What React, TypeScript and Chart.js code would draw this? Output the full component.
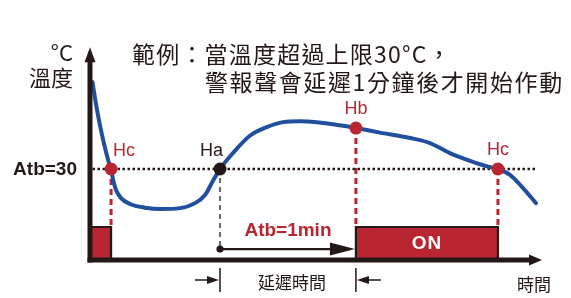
import React, { useEffect, useRef } from "react";
import { Chart, registerables } from "chart.js";

Chart.register(...registerables);

// ---- data (time in seconds, temperature in °C) ----
const curveTime = [1.1, 2.2, 3.5, 5.3, 7.1, 8.4, 9.3, 10.2, 11.5, 13.7, 17.7, 24.3, 30.9, 39.7, 46.4, 50.8, 54.3, 57.4, 63.1, 70.6, 78.1, 85.2, 92.7, 100.2, 110.4, 117.4, 128.0, 141.3, 150.1, 158.9, 167.8, 176.6, 180.1, 185.4, 190.3, 196.9];
const curveTemp = [49.1, 45.6, 41.9, 37.5, 33.7, 31.3, 30.0, 27.6, 25.4, 23.6, 22.3, 21.5, 21.2, 21.4, 22.5, 24.3, 27.4, 30.0, 33.5, 37.3, 39.2, 40.3, 40.5, 40.3, 39.6, 39.0, 38.0, 36.8, 35.7, 33.5, 31.8, 30.4, 30.0, 28.7, 26.3, 22.5];

const thresholdTemp = 30;
const thresholdStart = 1.1;
const thresholdEnd = 197.3;

const markerNames = ["Hc", "Ha", "Hb", "Hc"];
const markerTime = [9.3, 57.4, 117.4, 180.1];
const markerTemp = [30, 30, 39, 30];

// alarm output periods (start, end) in seconds, output level 0/1
const alarmStart = [0, 117.4];
const alarmEnd = [9.3, 180.1];
const delayArrowLevel = 0.33;

const titleLines = ["範例：當溫度超過上限30°C，", "警報聲會延遲1分鐘後才開始作動"];
const yUnitLabel = "°C";
const yTitle = "溫度";
const xTitle = "時間";
const delayLabel = "延遲時間";
const atbDelayLabel = "Atb=1min";
const atbTempLabel = "Atb=30";
const onLabel = "ON";

const RED = "#b92530";
const BLUE = "#1f4f9d";
const DARK = "#231815";
const CJK = '"Noto Sans CJK TC", "Noto Sans CJK SC", sans-serif';
const LATIN = '"Liberation Sans", Arial, sans-serif';

function txt(ctx: CanvasRenderingContext2D, s: string, x: number, y: number, font: string, color: string, align: CanvasTextAlign, ls = "0px") {
  ctx.font = font;
  ctx.fillStyle = color;
  ctx.textAlign = align;
  ctx.textBaseline = "middle";
  (ctx as any).letterSpacing = ls;
  ctx.fillText(s, x, y);
  (ctx as any).letterSpacing = "0px";
}

function head(ctx: CanvasRenderingContext2D, tipX: number, tipY: number, dx: number, dy: number, len: number, half: number, color: string) {
  const bx = tipX - dx * len;
  const by = tipY - dy * len;
  const px = -dy;
  const py = dx;
  ctx.beginPath();
  ctx.moveTo(tipX, tipY);
  ctx.lineTo(bx + px * half, by + py * half);
  ctx.lineTo(bx - px * half, by - py * half);
  ctx.closePath();
  ctx.fillStyle = color;
  ctx.fill();
}

const diagramPlugin = {
  id: "diagram",
  beforeDatasetsDraw(chart: any) {
    const { ctx, scales } = chart;
    const x = scales.x, y = scales.y, yOut = scales.yOut;
    ctx.save();
    const drop = (i: number, toLevel: number, color: string, w: number, dash: number[]) => {
      const px = x.getPixelForValue(markerTime[i]);
      ctx.beginPath();
      ctx.setLineDash(dash);
      ctx.strokeStyle = color;
      ctx.lineWidth = w;
      ctx.moveTo(px, y.getPixelForValue(markerTemp[i]));
      ctx.lineTo(px, yOut.getPixelForValue(toLevel));
      ctx.stroke();
    };
    drop(0, 1, RED, 3, [6, 4]);
    drop(1, delayArrowLevel, "#444", 1.6, [5, 4]);
    drop(2, 1, RED, 3, [6, 4]);
    drop(3, 1, RED, 3, [6, 4]);
    ctx.restore();
  },
  afterDatasetsDraw(chart: any) {
    const { ctx, scales, chartArea } = chart;
    const x = scales.x, y = scales.y, yOut = scales.yOut;
    ctx.save();
    ctx.setLineDash([]);

    const x0 = x.getPixelForValue(0);
    const y0 = yOut.getPixelForValue(0);
    const xEnd = x.getPixelForValue(200);

    // axes
    ctx.strokeStyle = DARK;
    ctx.lineWidth = 5;
    ctx.beginPath();
    ctx.moveTo(x0, y0 + 2.5);
    ctx.lineTo(x0, chartArea.top + 6);
    ctx.stroke();
    head(ctx, x0, chartArea.top - 8, 0, -1, 15, 5.5, DARK);
    ctx.beginPath();
    ctx.moveTo(x0 - 2.5, y0);
    ctx.lineTo(xEnd - 12, y0);
    ctx.stroke();
    head(ctx, xEnd - 1, y0, 1, 0, 13, 5.5, DARK);

    // delay arrow
    const ha = x.getPixelForValue(markerTime[1]);
    const hb = x.getPixelForValue(markerTime[2]);
    const ay = yOut.getPixelForValue(delayArrowLevel);
    ctx.fillStyle = DARK;
    ctx.beginPath();
    ctx.arc(ha, ay, 3.6, 0, Math.PI * 2);
    ctx.fill();
    ctx.lineWidth = 2.2;
    ctx.beginPath();
    ctx.moveTo(ha, ay);
    ctx.lineTo(hb - 20, ay);
    ctx.stroke();
    head(ctx, hb - 1, ay, 1, 0, 25, 6.5, DARK);

    // dimension markers below axis
    ctx.lineWidth = 1.5;
    [ha, hb].forEach((px) => {
      ctx.beginPath();
      ctx.moveTo(px, y0 + 8);
      ctx.lineTo(px, y0 + 32);
      ctx.stroke();
    });
    const dy = y0 + 20;
    ctx.beginPath();
    ctx.moveTo(ha - 25, dy);
    ctx.lineTo(ha - 8, dy);
    ctx.moveTo(hb + 25, dy);
    ctx.lineTo(hb + 8, dy);
    ctx.stroke();
    head(ctx, ha - 1, dy, 1, 0, 12, 4, DARK);
    head(ctx, hb + 1, dy, -1, 0, 12, 4, DARK);

    // marker labels
    const labelFont = `18px ${LATIN}`;
    markerNames.forEach((n, i) => {
      const px = x.getPixelForValue(markerTime[i]);
      const py = y.getPixelForValue(markerTemp[i]);
      const color = i === 1 ? DARK : RED;
      if (i === 0) txt(ctx, n, px + 2, py - 18, labelFont, color, "left");
      else if (i === 1) txt(ctx, n, px + 3, py - 18, labelFont, color, "right");
      else txt(ctx, n, px, py - 19, labelFont, color, "center");
    });

    // texts
    txt(ctx, atbTempLabel, 77, y.getPixelForValue(thresholdTemp) + 1, `bold 19px ${LATIN}`, DARK, "right");
    txt(ctx, atbDelayLabel, (ha + hb) / 2, yOut.getPixelForValue(1) + 4, `bold 19px ${LATIN}`, RED, "center");
    const onMid = (x.getPixelForValue(alarmStart[1]) + x.getPixelForValue(alarmEnd[1])) / 2;
    txt(ctx, onLabel, onMid, yOut.getPixelForValue(0.5), `bold 19px ${LATIN}`, "#ffffff", "center", "1px");
    txt(ctx, delayLabel, (ha + hb) / 2 + 4, y0 + 23, `17px ${CJK}`, DARK, "center");
    txt(ctx, xTitle, xEnd + 8, y0 + 25, `17px ${CJK}`, DARK, "right");
    txt(ctx, yUnitLabel, 73, 53, `22px ${CJK}`, DARK, "right");
    txt(ctx, yTitle, 73, 78, `22px ${CJK}`, DARK, "right");
    txt(ctx, titleLines[0], 132, 54, `23px ${CJK}`, DARK, "left", "1.2px");
    txt(ctx, titleLines[1], 205, 82, `23px ${CJK}`, DARK, "left", "1.6px");

    ctx.restore();
  },
};

export default function App() {
  const ref = useRef<HTMLCanvasElement | null>(null);
  useEffect(() => {
    if (!ref.current) return;
    const curve = curveTime.map((t, i) => ({ x: t, y: curveTemp[i] }));
    const markers = markerTime.map((t, i) => ({ x: t, y: markerTemp[i] }));
    const boxes = alarmStart.map((s, i) => ({
      type: "line" as const,
      data: [
        { x: s, y: 0 },
        { x: s, y: 1 },
        { x: alarmEnd[i], y: 1 },
        { x: alarmEnd[i], y: 0 },
      ],
      yAxisID: "yOut",
      borderColor: DARK,
      borderWidth: 2.2,
      backgroundColor: RED,
      fill: "origin",
      pointRadius: 0,
      tension: 0,
      order: 3,
      clip: false as any,
    }));
    const chart = new Chart(ref.current, {
      type: "line",
      data: {
        datasets: [
          {
            data: markers,
            showLine: false,
            pointRadius: 6.5,
            pointBackgroundColor: [RED, DARK, RED, RED],
            pointBorderWidth: 0,
            order: 0,
            clip: false as any,
          },
          {
            data: curve,
            borderColor: BLUE,
            borderWidth: 4,
            pointRadius: 0,
            cubicInterpolationMode: "monotone",
            borderCapStyle: "round",
            fill: false,
            order: 1,
            clip: false as any,
          },
          {
            data: [
              { x: thresholdStart, y: thresholdTemp },
              { x: thresholdEnd, y: thresholdTemp },
            ],
            borderColor: DARK,
            borderWidth: 2.5,
            borderDash: [2.5, 2.5],
            pointRadius: 0,
            fill: false,
            order: 2,
          },
          ...(boxes as any[]),
        ],
      },
      options: {
        animation: false,
        responsive: false,
        events: [],
        layout: { padding: { left: 90, right: 28, top: 55.25, bottom: 38 } },
        plugins: { legend: { display: false }, tooltip: { enabled: false } },
        scales: {
          x: { type: "linear", min: 0, max: 200, display: false },
          y: { type: "linear", min: 10, max: 55, display: false },
          yOut: { type: "linear", min: 0, max: 6.2, display: false },
        },
      },
      plugins: [diagramPlugin],
    });
    return () => chart.destroy();
  }, []);
  return (
    <div style={{ position: "absolute", left: 0, top: 0, width: 571, height: 298, background: "#fff" }}>
      <canvas ref={ref} width={571} height={298} style={{ display: "block" }} />
    </div>
  );
}
